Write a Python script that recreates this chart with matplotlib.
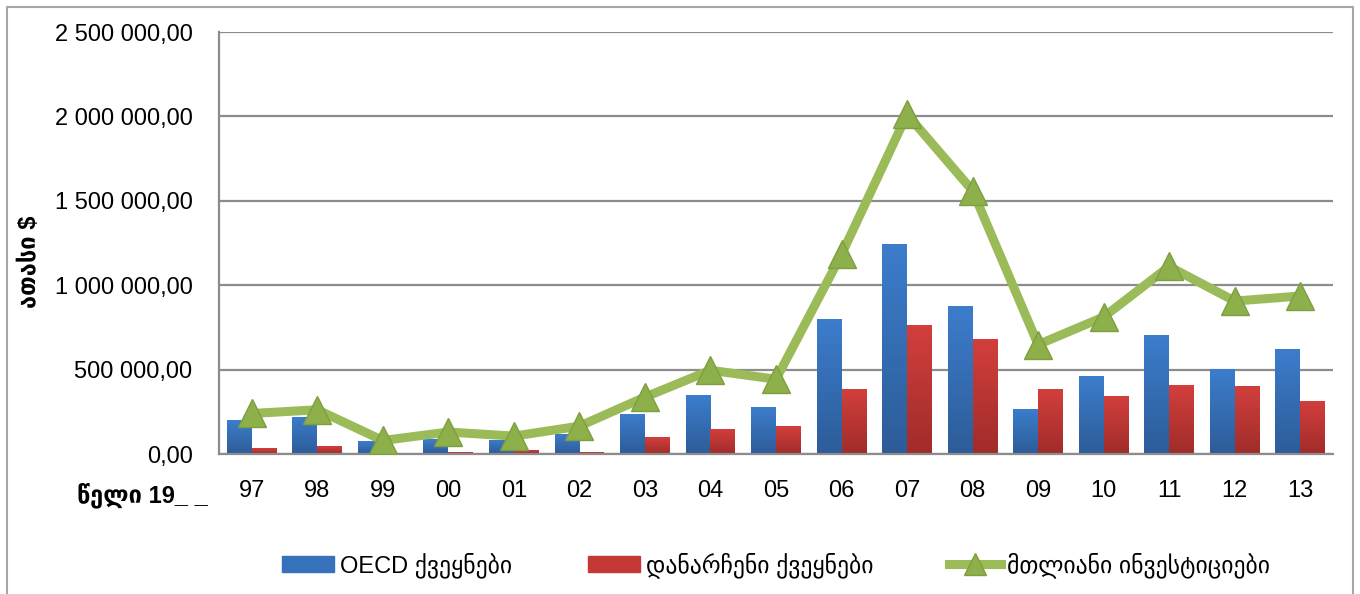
import matplotlib
matplotlib.use("Agg")
import matplotlib.pyplot as plt
import numpy as np
from matplotlib.lines import Line2D
from matplotlib.colors import LinearSegmentedColormap
from matplotlib.ticker import FuncFormatter

# Data (thousand $)
years = ["97", "98", "99", "00", "01", "02", "03", "04", "05",
         "06", "07", "08", "09", "10", "11", "12", "13"]
oecd = [200000, 220000, 77000, 88000, 83000, 118000, 236000, 349000, 278000,
        798000, 1247000, 875000, 266000, 461000, 703000, 502000, 620000]
others = [35000, 47000, 3000, 12000, 24000, 12000, 100000, 148000, 165000,
          384000, 762000, 680000, 384000, 343000, 408000, 402000, 313000]
total = [240000, 262000, 80000, 130000, 106000, 165000, 337000, 496000, 443000,
         1182000, 2012000, 1560000, 648000, 812000, 1111000, 906000, 936000]

labels = ["OECD ქვეყნები", "დანარჩენი ქვეყნები", "მთლიანი ინვესტიციები"]

FONT = ["Liberation Sans", "DejaVu Sans"]
plt.rcParams["font.family"] = FONT

BLUE = "#3672BC"
RED = "#C43936"
GREEN = "#9BBB59"
GRID = "#8C8C8C"


def fmt_thousands(v, pos):
    # 2 500 000,00 style
    return f"{v:,.2f}".replace(",", " ").replace(".", ",")


def gradient_bars(ax, bars, top, bottom):
    # excel-like vertical gradient, lighter on top
    cmap = LinearSegmentedColormap.from_list("g", [bottom, top])
    grad = np.linspace(0, 1, 256).reshape(-1, 1)
    for b in bars:
        b.set_facecolor("none")
        b.set_edgecolor("none")
        x0, y0 = b.get_x(), b.get_y()
        im = ax.imshow(grad, cmap=cmap, origin="lower", aspect="auto",
                       extent=[x0, x0 + b.get_width(), y0, y0 + b.get_height()],
                       zorder=2)
        im.set_clip_path(b)


fig = plt.figure(figsize=(13.6, 5.94), dpi=100)
ax = fig.add_axes([219 / 1360, 1 - 454 / 594, (1333 - 219) / 1360, (454 - 32) / 594])

x = np.arange(len(years))
w = 0.38
b1 = ax.bar(x - w / 2, oecd, width=w, color=BLUE, zorder=2, label=labels[0])
b2 = ax.bar(x + w / 2, others, width=w, color=RED, zorder=2, label=labels[1])
gradient_bars(ax, b1, "#3C7DCC", "#2D5C98")
gradient_bars(ax, b2, "#D23F3C", "#A02C2A")
ax.plot(x, total, color=GREEN, lw=6.5, marker="^", markersize=20,
        markerfacecolor="#8DB04A", markeredgecolor="#7E9F40", markeredgewidth=1,
        solid_joinstyle="miter", zorder=3, label=labels[2])

ax.set_xlim(-0.5, len(years) - 0.5)
ax.set_ylim(0, 2500000)
ax.set_yticks(np.arange(0, 2500001, 500000))
ax.yaxis.set_major_formatter(FuncFormatter(fmt_thousands))
ax.set_xticks(x)
ax.set_xticklabels(years)
ax.tick_params(axis="both", length=0, labelsize=17, pad=19, colors="black")

ax.grid(axis="y", color=GRID, lw=1.6, zorder=0)
ax.set_axisbelow(True)
for s in ["top", "right"]:
    ax.spines[s].set_visible(False)
for s in ["left", "bottom"]:
    ax.spines[s].set_color(GRID)
    ax.spines[s].set_linewidth(1.6)

# axis titles
fig.text(29 / 1360, 1 - 262 / 594, "ათასი $", rotation=90, fontsize=17,
         fontweight="bold", ha="center", va="center", family=FONT)
fig.text(142 / 1360, 1 - 495 / 594, "წელი 19_ _", fontsize=17,
         fontweight="bold", ha="center", va="center", family=FONT)

# legend
handles = [
    plt.Rectangle((0, 0), 1, 1, color=BLUE),
    plt.Rectangle((0, 0), 1, 1, color=RED),
    Line2D([], [], color=GREEN, lw=6.5, marker="^", markersize=16,
           markerfacecolor="#8DB04A", markeredgecolor="#7E9F40"),
]
fig.legend(handles, labels, loc="center", bbox_to_anchor=(776 / 1360, 1 - 565 / 594),
           ncol=3, frameon=False, fontsize=17, handlelength=2.2, handleheight=0.7,
           handletextpad=0.25, columnspacing=3.2)

# chart border
bc = "#A6A6A6"
x0, x1, yt = 7 / 1360, 1353 / 1360, 1 - 7 / 594
fig.add_artist(Line2D([x0, x0, x1, x1], [0, yt, yt, 0], color=bc, lw=1.5,
                      transform=fig.transFigure))

fig.savefig("out.png", dpi=100)
